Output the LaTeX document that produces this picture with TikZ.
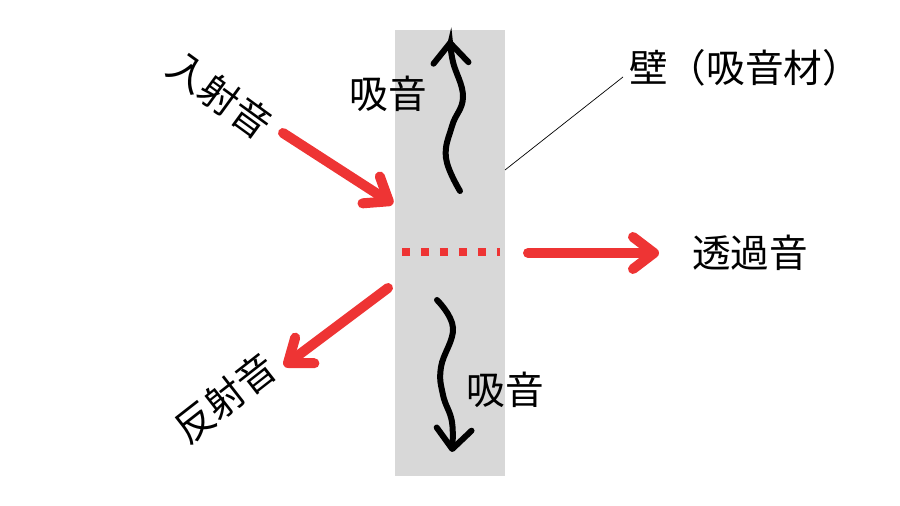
\documentclass[tikz,border=0pt]{standalone}
\usepackage{fontspec}
\newfontfamily\jp{Noto Sans CJK JP}
\usetikzlibrary{arrows.meta}
\definecolor{soundred}{RGB}{238,52,52}
\definecolor{wallgray}{RGB}{216,216,216}

\begin{document}
\begin{tikzpicture}[x=0.02cm, y=-0.02cm,
    label/.style={font=\jp\fontsize{22}{22}\selectfont, inner sep=0pt},
    ray/.style={soundred, line width=0.2cm, line cap=round,
        -{Straight Barb[length=0.42cm, width=0.64cm, round]}},
    absorb/.style={black, line width=0.12cm, line cap=round,
        -{Straight Barb[length=0.4cm, width=0.7cm, round]}}]
    \useasboundingbox (0,0) rectangle (900,506);

    % wall
    \node [fill=wallgray, minimum width=2.2cm, minimum height=8.92cm, inner sep=0pt] (wall) at (450,253) {};
    \draw [soundred, line width=0.16cm, dash pattern=on 0.16cm off 0.22cm] (402,252) -- (500,252);
    \coordinate (lead) at (505,170);
    \coordinate (leadend) at (623,77);
    \draw [black, line width=0.4pt] (lead) -- (leadend);

    % labels
    \node [label, rotate=-36] (incident) at (220,95) {入射音};
    \node [label, rotate=38] (reflected) at (225,398) {反射音};
    \node [label] (absup) at (388,94) {吸音};
    \node [label] (absdown) at (505,390) {吸音};
    \node [label] (walllabel) at (745,68) {壁（吸音材）};
    \node [label] (transmitted) at (750,253) {透過音};

    % sound rays
    \coordinate (inA) at (283,133);
    \coordinate (inB) at (393,204);
    \coordinate (reA) at (388,288);
    \coordinate (reB) at (284,366);
    \coordinate (trA) at (528,253);
    \coordinate (trB) at (659,253);
    \draw [ray] (inA) -- (inB);
    \draw [ray] (reA) -- (reB);
    \draw [ray] (trA) -- (trB);

    % absorbed sound
    \draw [absorb] plot [smooth, tension=0.7] coordinates {(460,191) (446,158) (452,126) (463,97) (453,62) (450,40)};
    \draw [absorb] plot [smooth, tension=0.7] coordinates {(437,300) (453,328) (441,367) (443,395) (452,422) (452,452)};
\end{tikzpicture}
\end{document}
